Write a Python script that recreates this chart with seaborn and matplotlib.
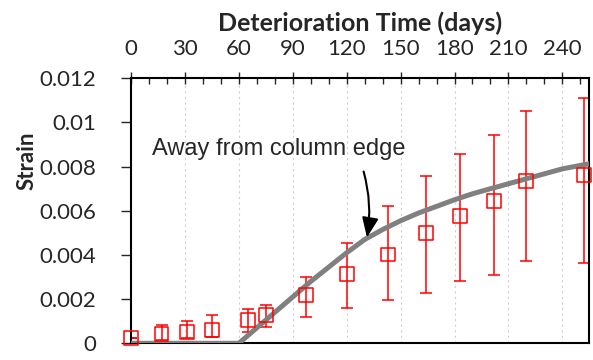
import numpy as np
import pandas as pd
import seaborn as sns
import matplotlib.pyplot as plt
from matplotlib.ticker import MultipleLocator

# measured points (days, strain) with error bar limits
dias = [0, 17, 31, 45, 65, 75, 97.5, 120, 143, 164, 183, 202, 220, 252]
strain = [0.00023, 0.00042, 0.00053, 0.0006, 0.00106, 0.00128, 0.00219, 0.00312,
          0.00402, 0.00501, 0.00577, 0.00645, 0.00735, 0.00761]
err_sup = [0.00023, 0.00082, 0.0010, 0.00128, 0.00157, 0.00174, 0.00299, 0.00453,
           0.0062, 0.00758, 0.00859, 0.00942, 0.01052, 0.01109]
err_inf = [0.00023, 0.00015, 0.00023, 0.0003, 0.00053, 0.00075, 0.0012, 0.00158,
           0.00198, 0.00228, 0.00283, 0.00311, 0.00373, 0.00364]

# model curve
curva_dias = [0, 60, 80, 100, 120, 130, 140, 150, 160, 170, 180, 190, 200, 220, 240, 255]
curva_strain = [0, 0, 0.0014, 0.0028, 0.0041, 0.0047, 0.00515, 0.00555, 0.0059, 0.0062,
                0.0065, 0.00677, 0.0070, 0.00745, 0.0079, 0.00813]

df = pd.DataFrame({'dias': dias, 'strain': strain})
df_curva = pd.DataFrame({'dias': curva_dias, 'strain': curva_strain})

sns.set_style('white')
plt.rcParams['font.family'] = ['Lato', 'DejaVu Sans']

fig = plt.figure(figsize=(5.93, 3.6), dpi=100)
ax = fig.add_axes([0.2209, 0.0464, 0.7729, 0.7361])

yerr = [np.array(strain) - np.array(err_inf), np.array(err_sup) - np.array(strain)]
ax.errorbar(dias, strain, yerr=yerr, fmt='none', ecolor='red', elinewidth=1.1,
            capsize=4.5, capthick=1.1, zorder=2)
sns.lineplot(data=df_curva, x='dias', y='strain', color='#808080', linewidth=3.6,
             ax=ax, zorder=3)
sns.scatterplot(data=df, x='dias', y='strain', marker='s', s=100, facecolor='none',
                edgecolor='red', linewidth=1.1, ax=ax, zorder=4, clip_on=False)

ax.set_xlim(0, 255)
ax.set_ylim(0, 0.012)
ax.xaxis.tick_top()
ax.xaxis.set_label_position('top')
ax.xaxis.set_major_locator(MultipleLocator(30))
ax.xaxis.set_minor_locator(MultipleLocator(10))
ax.set_yticks([0, 0.002, 0.004, 0.006, 0.008, 0.01, 0.012])
ax.set_yticklabels(['0', '0.002', '0.004', '0.006', '0.008', '0.01', '0.012'])
ax.tick_params(axis='x', which='major', direction='inout', length=8, width=1,
               labelsize=16, pad=10, top=True, bottom=False)
ax.tick_params(axis='x', which='minor', direction='in', length=4, width=1, top=True, bottom=False)
ax.tick_params(axis='y', which='major', direction='out', length=7, width=1,
               labelsize=16, pad=18, left=True)
ax.grid(axis='x', which='major', linestyle=(0, (2, 3)), color='#d0d0d0', linewidth=0.8)
ax.set_axisbelow(True)
for s in ax.spines.values():
    s.set_color('black')
    s.set_linewidth(1.5)

ax.set_xlabel('Deterioration Time (days)', fontsize=18, fontweight='bold', labelpad=6)
ax.set_ylabel('Strain', fontsize=16, fontweight='bold', labelpad=1, y=0.69)

ax.annotate('', xy=(131, 0.00467), xytext=(129, 0.0079),
            arrowprops=dict(arrowstyle='-|>,head_length=1.2,head_width=0.5', color='black',
                            lw=1.5, connectionstyle='arc3,rad=-0.12'))
ax.text(11.5, 0.0088, 'Away from column edge', fontsize=17, va='center', ha='left',
        family=['Liberation Sans', 'DejaVu Sans'])

fig.savefig('out.png', dpi=100)
